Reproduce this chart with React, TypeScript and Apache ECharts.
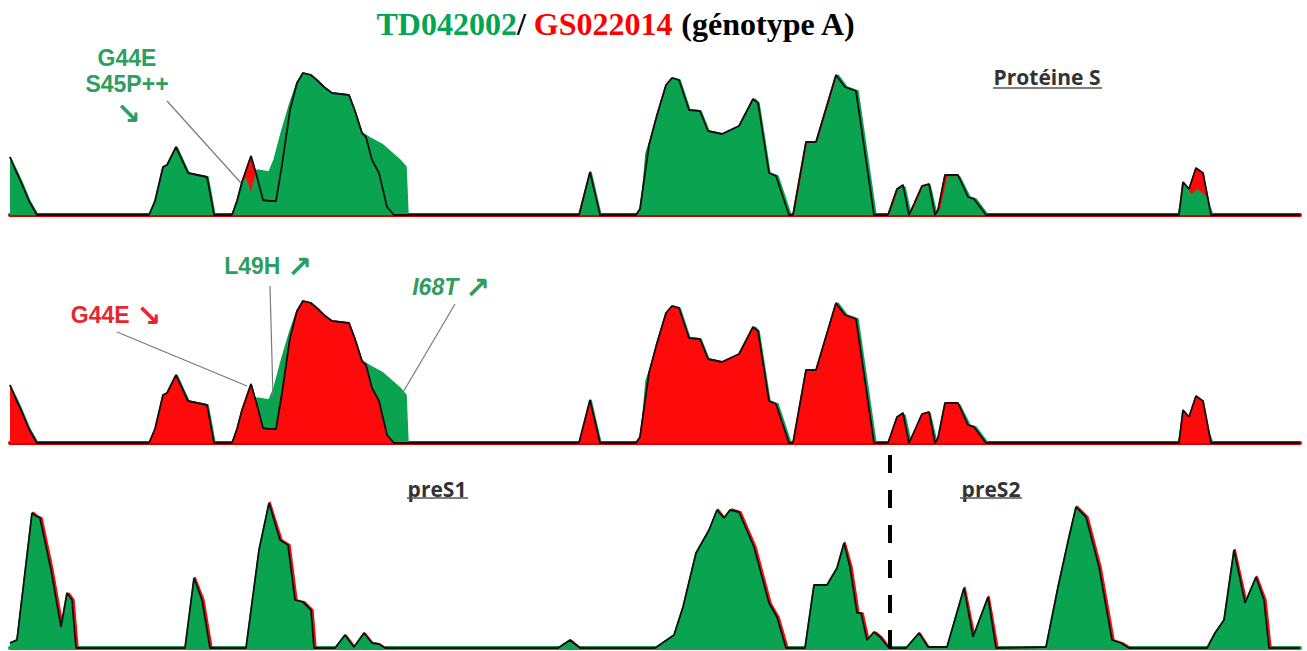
import React, { useEffect, useRef } from "react";
import * as echarts from "echarts";

// Position along the figure (x) and hydrophobicity score (y)
const sGreen: number[][] = [
  [10, 58], [16, 46], [22, 33], [30, 14], [38, 0],
  [150, 0], [156, 14], [164, 48], [168, 50], [177, 68], [183, 55], [189, 42], [208, 38], [211, 22], [215, 0],
  [233, 0], [238, 14], [242, 32], [246, 36], [251, 20], [257, 45], [263, 44], [269, 43], [274, 55], [282, 85], [290, 112], [297, 132], [303, 142], [311, 140], [318, 134], [324, 128], [332, 122], [349, 120], [355, 104], [362, 82], [370, 77], [383, 70], [400, 55], [406, 48], [408, 0],
  [581, 0], [591, 43], [601, 0],
  [637, 0], [641, 5], [646, 62], [658, 98], [667, 128], [673, 137], [680, 135], [690, 105], [701, 104], [709, 84], [723, 81], [740, 89], [755, 116], [759, 112], [770, 42], [778, 39], [791, 0],
  [795, 0], [808, 73], [818, 73], [838, 140], [847, 128], [858, 124], [876, 0],
  [890, 0], [899, 25], [905, 28], [911, 0], [916, 10], [923, 27], [930, 30], [937, 0], [941, 6], [948, 38], [960, 38], [970, 18], [976, 16], [988, 0],
  [1178, 0], [1185, 30], [1191, 20], [1198, 25], [1206, 18], [1213, 0],
  [1300, 0],
];

const sRed: number[][] = [
  [10, 58], [15, 46], [21, 33], [29, 14], [37, 0],
  [149, 0], [155, 14], [163, 48], [167, 50], [176, 68], [182, 55], [188, 42], [207, 38], [210, 22], [214, 0],
  [232, 0], [237, 14], [242, 33], [251, 59], [257, 38], [263, 15], [269, 14], [276, 14], [282, 50], [290, 105], [297, 132], [303, 142], [311, 140], [318, 134], [324, 128], [332, 122], [349, 120], [355, 104], [362, 82], [366, 78], [372, 55], [379, 42], [387, 8], [394, 0],
  [579, 0], [590, 43], [600, 0],
  [636, 0], [640, 6], [649, 70], [657, 100], [666, 130], [672, 137], [679, 135], [689, 105], [700, 104], [708, 84], [722, 81], [739, 89], [753, 116], [758, 112], [769, 42], [776, 39], [789, 0],
  [793, 0], [806, 73], [816, 73], [836, 140], [845, 128], [856, 124], [874, 0],
  [888, 0], [897, 26], [903, 30], [909, 0], [914, 11], [922, 29], [929, 31], [935, 0], [938, 5], [945, 40], [958, 40], [968, 18], [974, 16], [986, 0],
  [1179, 0], [1183, 33], [1189, 26], [1196, 47], [1203, 42], [1211, 0],
  [1300, 0],
];

const preGreen: number[][] = [
  [10, 5], [17, 8], [32, 135], [36, 132], [40, 130], [51, 78], [61, 21], [67, 55], [72, 48], [76, 0],
  [185, 0], [194, 70], [202, 48], [210, 0],
  [246, 0], [259, 98], [269, 145], [280, 108], [288, 103], [295, 48], [303, 46], [311, 38], [314, 0],
  [335, 0], [345, 13], [354, 1], [364, 15], [372, 5], [379, 4], [385, 0],
  [558, 0], [570, 8], [580, 0],
  [655, 0], [674, 13], [683, 41], [696, 95], [709, 118], [717, 138], [724, 130], [730, 138], [739, 136], [754, 101], [769, 45], [777, 31], [786, 0],
  [805, 0], [814, 63], [827, 63], [837, 80], [844, 105], [850, 81], [857, 35], [861, 35], [867, 8], [874, 16], [880, 11], [889, 0],
  [906, 0], [919, 15], [928, 1], [947, 1], [964, 60], [973, 11], [988, 51], [996, 0],
  [1046, 1], [1058, 61], [1069, 111], [1076, 141], [1086, 131], [1099, 81], [1112, 8], [1121, 5], [1129, 0],
  [1207, 0], [1215, 15], [1224, 28], [1234, 98], [1245, 45], [1256, 71], [1264, 48], [1269, 0],
  [1300, 0],
];

const preRed: number[][] = [
  [10, 5], [17, 8], [33, 136], [38, 132], [42, 130], [53, 78], [63, 21], [69, 55], [74, 48], [78, 0],
  [186, 0], [195, 71], [204, 48], [212, 0],
  [247, 0], [260, 98], [270, 146], [282, 108], [290, 103], [297, 48], [305, 46], [313, 38], [316, 0],
  [336, 0], [346, 13], [355, 1], [365, 15], [373, 5], [380, 4], [386, 0],
  [559, 0], [571, 8], [581, 0],
  [656, 0], [675, 13], [684, 41], [697, 95], [710, 118], [718, 139], [725, 130], [732, 139], [741, 136], [756, 101], [771, 45], [779, 31], [788, 0],
  [806, 0], [815, 63], [828, 63], [838, 80], [845, 106], [852, 81], [859, 35], [863, 35], [869, 8], [876, 16], [882, 11], [890, 0],
  [907, 0], [920, 15], [929, 1], [948, 1], [965, 61], [975, 11], [989, 52], [998, 0],
  [1047, 1], [1059, 61], [1070, 111], [1077, 142], [1088, 131], [1101, 81], [1114, 8], [1123, 5], [1131, 0],
  [1208, 0], [1216, 15], [1225, 28], [1235, 99], [1247, 45], [1257, 72], [1266, 48], [1271, 0],
  [1300, 0],
];

const GREEN = "#0aa34f";
const RED = "#ff0a0a";
const TXT_GREEN = "#2e9e5e";
const TXT_RED = "#e8262f";

function area(data: number[][], idx: number, color: string, z: number) {
  return {
    type: "line",
    xAxisIndex: idx,
    yAxisIndex: idx,
    data,
    symbol: "none",
    z,
    lineStyle: { color, width: 1.5 },
    areaStyle: { color, opacity: 1 },
  };
}
function outline(data: number[][], idx: number) {
  return {
    type: "line",
    xAxisIndex: idx,
    yAxisIndex: idx,
    data,
    symbol: "none",
    z: 10,
    lineStyle: { color: "#111", width: 1.8 },
  };
}

export default function App() {
  const ref = useRef<HTMLDivElement>(null);
  useEffect(() => {
    const chart = echarts.init(ref.current!, null, { renderer: "svg" });
    const grids = [
      { left: 10, right: 7, top: 60, height: 155 },
      { left: 10, right: 7, top: 288, height: 155 },
      { left: 10, right: 7, top: 493, height: 155 },
    ];
    const axisColors = ["#d40000", "#d40000", "#1f9a50"];
    const labelFont = "'Open Sans', 'DejaVu Sans', sans-serif";
    const annFont = "'Liberation Sans', 'DejaVu Sans', sans-serif";
    const arrowFont = "'DejaVu Sans', sans-serif";
    const ann = (x: number, y: number, text: string, fill: string, italic = false) => ({
      type: "text",
      x,
      y,
      z: 100,
      style: {
        text,
        align: "center",
        verticalAlign: "middle",
        rich: {
          t: { fill, fontFamily: annFont, fontWeight: "bold", fontSize: 23, fontStyle: italic ? "italic" : "normal" },
          a: { fill, fontFamily: arrowFont, fontWeight: "bold", fontSize: 30 },
        },
      },
    });
    const lbl = (x: number, y: number, text: string) => ({
      type: "text",
      x,
      y,
      z: 100,
      style: {
        text,
        fill: "#333",
        align: "center",
        verticalAlign: "middle",
        fontFamily: labelFont,
        fontWeight: "bold",
        fontSize: 21,
      },
    });
    const ln = (x1: number, y1: number, x2: number, y2: number, stroke = "#7a7a7a", lineWidth = 1.2, extra: any = {}) => ({
      type: "line",
      z: 100,
      shape: { x1, y1, x2, y2 },
      style: { stroke, lineWidth, ...extra },
    });
    const serif = "'Liberation Serif', serif";
    chart.setOption({
      animation: false,
      grid: grids,
      xAxis: grids.map((_, i) => ({
        type: "value",
        gridIndex: i,
        min: 10,
        max: 1300,
        axisLine: { show: true, lineStyle: { color: axisColors[i], width: 4 } },
        axisTick: { show: false },
        axisLabel: { show: false },
        splitLine: { show: false },
      })),
      yAxis: grids.map((_, i) => ({
        type: "value",
        gridIndex: i,
        min: 0,
        max: 155,
        show: false,
        splitLine: { show: false },
      })),
      series: [
        area(sRed, 0, RED, 2),
        area(sGreen, 0, GREEN, 3),
        outline(sRed, 0),
        area(sGreen, 1, GREEN, 2),
        area(sRed, 1, RED, 3),
        outline(sRed, 1),
        area(preRed, 2, RED, 2),
        area(preGreen, 2, GREEN, 3),
        outline(preGreen, 2),
      ],
      graphic: [
        {
          type: "text",
          x: 616,
          y: 24,
          z: 100,
          style: {
            text: "{g|TD042002}{k|/ }{r|GS022014}{k| (génotype A)}",
            align: "center",
            verticalAlign: "middle",
            rich: {
              g: { fill: "#00a651", fontFamily: serif, fontWeight: "bold", fontSize: 32 },
              r: { fill: "#ff0000", fontFamily: serif, fontWeight: "bold", fontSize: 32 },
              k: { fill: "#000", fontFamily: serif, fontWeight: "bold", fontSize: 32 },
            },
          },
        },
        // region labels
        lbl(1047, 77, "Protéine S"),
        ln(993, 88, 1102, 88, "#555", 1.5),
        lbl(437, 489, "preS1"),
        ln(407, 498, 468, 498, "#555", 1.5),
        lbl(991, 489, "preS2"),
        ln(960, 498, 1022, 498, "#555", 1.5),
        // dashed separator preS1 / preS2
        ln(890, 455, 890, 648, "#000", 4, { lineDash: [18, 17] }),
        // annotations panel 1
        ann(127, 58, "{t|G44E}", TXT_GREEN),
        ann(127, 84, "{t|S45P++}", TXT_GREEN),
        ann(128, 113, "{a|↘}", TXT_GREEN),
        ln(167, 101, 241, 183),
        // annotations panel 2
        ann(116, 315, "{t|G44E }{a|↘}", TXT_RED),
        ln(117, 332, 247, 386),
        ann(268, 266, "{t|L49H }{a|↗}", TXT_GREEN),
        ln(270, 286, 273, 397),
        ann(451, 287, "{t|I68T }{a|↗}", TXT_GREEN, true),
        ln(455, 304, 402, 394),
      ],
    });
    return () => chart.dispose();
  }, []);
  return (
    <div
      ref={ref}
      style={{ position: "fixed", left: 0, top: 0, width: 1307, height: 651, background: "#fff" }}
    />
  );
}
